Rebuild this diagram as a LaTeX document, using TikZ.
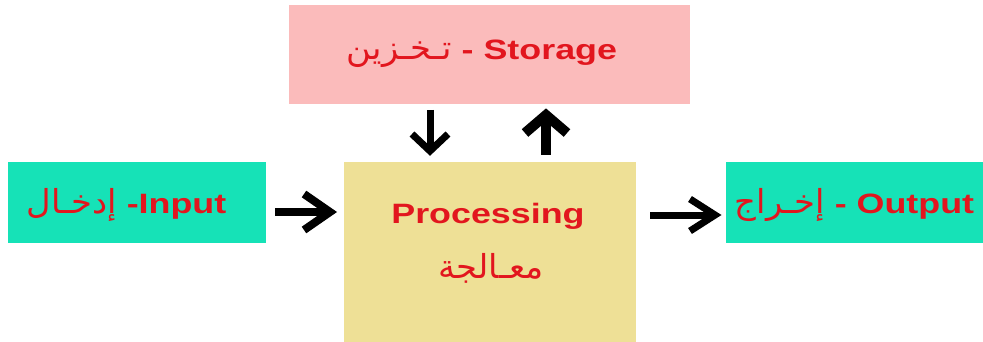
\documentclass[tikz,border=0pt]{standalone}
\usepackage{fontspec}
\setmainfont{Liberation Sans}
\newfontfamily\arabicfont[Script=Arabic]{DejaVu Sans}
\TeXXeTstate=1
\definecolor{pinkbox}{RGB}{251,187,187}
\definecolor{tealbox}{RGB}{22,226,183}
\definecolor{khakibox}{RGB}{238,224,150}
\definecolor{redtext}{RGB}{226,22,30}
\newcommand{\artxt}[1]{{\arabicfont\mdseries\fontsize{33}{36}\selectfont\scalebox{0.8}[1]{\beginR #1\endR}}}
\newcommand{\widetxt}[1]{\scalebox{1.28}[1]{#1}}
\begin{document}
\begin{tikzpicture}[x=1pt,y=-1pt,
  box/.style={draw=none,inner sep=0pt,outer sep=0pt},
  lbl/.style={inner sep=0pt,anchor=base,text=redtext,font=\fontsize{28}{32}\selectfont\bfseries},
  arr/.style={draw=black,line width=#1,line join=miter,miter limit=10,line cap=butt},
  arr/.default=8pt]
\useasboundingbox (0,0) rectangle (983,342);
% boxes
\node[box,fill=pinkbox,minimum width=401pt,minimum height=99pt] (storage) at (489.5,54.5) {};
\node[box,fill=tealbox,minimum width=258pt,minimum height=81pt] (input) at (137,202.5) {};
\node[box,fill=khakibox,minimum width=292pt,minimum height=180pt] (proc) at (490,252) {};
\node[box,fill=tealbox,minimum width=257pt,minimum height=81pt] (output) at (854.5,202.5) {};
% labels
\node[lbl] (storageT) at (482,60) {\widetxt{\artxt{تـخـزين} - Storage}};
\node[lbl] (inputT) at (126.5,213) {\widetxt{\artxt{إدخـال} -Input}};
\node[lbl] (procT) at (488,223) {\widetxt{Processing}};
\node[lbl] (procA) at (491,278) {\widetxt{\artxt{معـالجة}}};
\node[lbl] (outputT) at (854.5,213) {\widetxt{\artxt{إخـراج} - Output}};
% arrow coordinates
\coordinate (i1) at (275,212);
\coordinate (i2) at (330,212);
\coordinate (o1) at (650,215);
\coordinate (o2) at (715,215);
\coordinate (d1) at (430,110);
\coordinate (d2) at (430,151);
\coordinate (u1) at (546,155);
\coordinate (u2) at (546,115);
% input -> processing
\draw[arr=8pt] (i1) -- (i2);
\draw[arr=8pt] (i2) ++(-26,-18) -- (i2) -- ++(-26,18);
% processing -> output
\draw[arr=7pt] (o1) -- (o2);
\draw[arr=7pt] (o2) ++(-25,-16) -- (o2) -- ++(-25,16);
% storage -> processing
\draw[arr=7pt] (d1) -- (d2);
\draw[arr=7pt] (d2) ++(-18,-17) -- (d2) -- ++(18,-17);
% processing -> storage
\draw[arr=10pt] (u1) -- (u2);
\draw[arr=10pt] (u2) ++(-21,18) -- (u2) -- ++(21,18);
\end{tikzpicture}
\end{document}
